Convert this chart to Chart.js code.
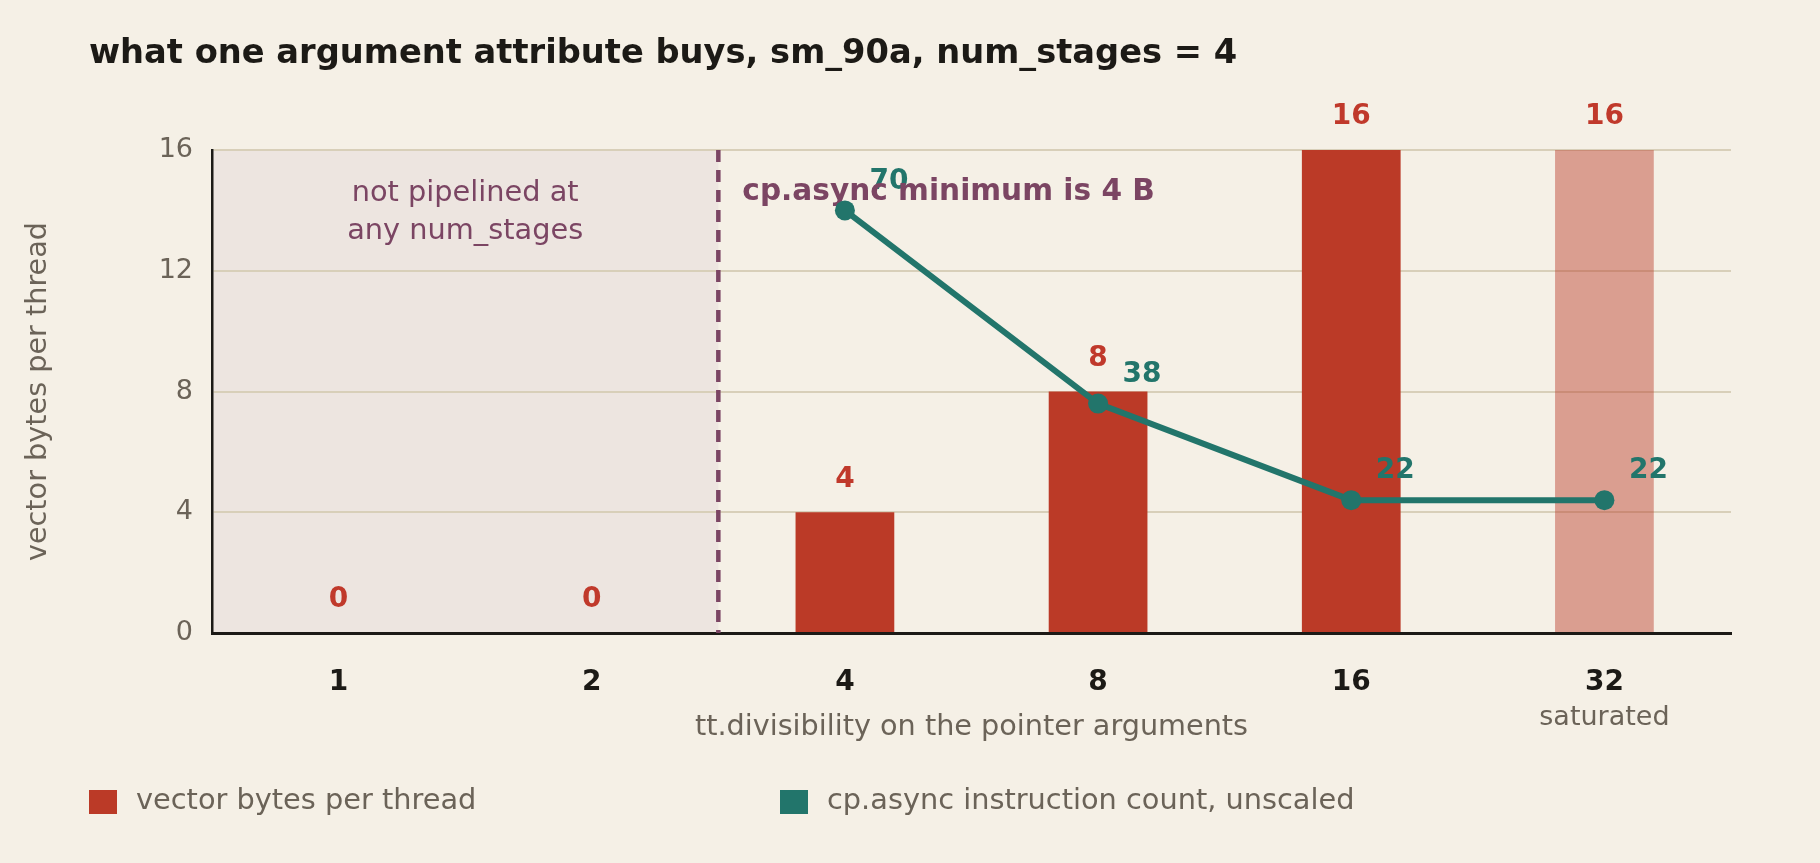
<!DOCTYPE html>
<html>
<head>
<meta charset="utf-8">
<script src="https://cdn.jsdelivr.net/npm/chart.js@4"></script>
<style>
  html, body { margin: 0; padding: 0; background: #f5f0e6; }
  canvas { display: block; }
</style>
</head>
<body>
<canvas id="chart" width="1820" height="863"></canvas>
<script>
// tt.divisibility values along the x axis
const divisibility = ['1', '2', '4', '8', '16', '32']
// vector bytes per thread (bars)
const vectorBytes = [0, 0, 4, 8, 16, 16]
// cp.async instruction count (line), not emitted below 4 B
const cpAsyncCount = [null, null, 70, 38, 22, 22]
const yTicks = [0, 4, 8, 12, 16]

const BG = '#f5f0e6'
const RED = '#bb3a27'
const RED_LIGHT = 'rgba(187, 58, 39, 0.45)'
const TEAL = '#22756b'
const PURPLE = '#7b4563'
const GRAY = '#6b6358'
const INK = '#1c1a16'
const FONT = 'DejaVu Sans'

Chart.defaults.font.family = FONT
Chart.defaults.font.size = 28

const extras = {
    id: 'extras',
    beforeDraw(chart) {
        const { ctx, chartArea: a, scales: { x } } = chart
        ctx.save()
        ctx.fillStyle = BG
        ctx.fillRect(0, 0, chart.width, chart.height)
        // not-pipelined band behind categories 1 and 2
        const edge = (x.getPixelForValue(1) + x.getPixelForValue(2)) / 2
        ctx.fillStyle = '#ede5e0'
        ctx.fillRect(a.left, a.top, edge - a.left, a.bottom - a.top)

        // title
        ctx.fillStyle = INK
        ctx.font = `bold 33.7px ${FONT}`
        ctx.textAlign = 'left'
        ctx.textBaseline = 'alphabetic'
        ctx.fillText('what one argument attribute buys, sm_90a, num_stages = 4', 89, 63)

        // legend
        ctx.font = `28.8px ${FONT}`
        ctx.textBaseline = 'middle'
        const items = [
            { color: RED, text: 'vector bytes per thread', x: 89 },
            { color: TEAL, text: 'cp.async instruction count, unscaled', x: 780 },
        ]
        items.forEach(it => {
            ctx.fillStyle = it.color
            ctx.fillRect(it.x, 790, 28, 24)
            ctx.fillStyle = GRAY
            ctx.fillText(it.text, it.x + 47, 802)
        })
        ctx.restore()
    },
    beforeDatasetsDraw(chart) {
        const { ctx, chartArea: a, scales: { x } } = chart
        const edge = (x.getPixelForValue(1) + x.getPixelForValue(2)) / 2
        ctx.save()
        ctx.strokeStyle = PURPLE
        ctx.lineWidth = 4.5
        ctx.setLineDash([12, 8])
        ctx.beginPath()
        ctx.moveTo(edge, a.top)
        ctx.lineTo(edge, a.bottom)
        ctx.stroke()
        ctx.restore()
    },
    afterDatasetDraw(chart, args) {
        if (args.index !== 0) return
        const { ctx, chartArea: a, scales: { x } } = chart
        const edge = (x.getPixelForValue(1) + x.getPixelForValue(2)) / 2
        ctx.save()
        ctx.textAlign = 'center'
        ctx.textBaseline = 'middle'
        ctx.font = `bold 28px ${FONT}`

        ctx.fillStyle = '#c0392b'
        chart.getDatasetMeta(0).data.forEach(bar => {
            ctx.fillText(String(vectorBytes[bar.$context.dataIndex]), bar.x, bar.y - 33)
        })
        ctx.fillStyle = TEAL
        chart.getDatasetMeta(1).data.forEach((pt, i) => {
            if (cpAsyncCount[i] == null) return
            ctx.fillText(String(cpAsyncCount[i]), pt.x + 44, pt.y - 29)
        })

        // annotations
        ctx.fillStyle = PURPLE
        ctx.font = `28.8px ${FONT}`
        const mid = (a.left + edge) / 2
        ctx.fillText('not pipelined at', mid, 194)
        ctx.fillText('any num_stages', mid, 232)
        ctx.font = `bold 29.6px ${FONT}`
        ctx.textAlign = 'left'
        ctx.fillText('cp.async minimum is 4 B', edge + 24, 192)

        ctx.fillStyle = GRAY
        ctx.textAlign = 'center'
        ctx.font = `27px ${FONT}`
        ctx.fillText('saturated', x.getPixelForValue(5), 718)
        ctx.restore()
    }
}

new Chart(document.getElementById('chart'), {
    data: {
        labels: divisibility,
        datasets: [
            {
                type: 'bar',
                label: 'vector bytes per thread',
                data: vectorBytes,
                backgroundColor: vectorBytes.map((v, i) => i === vectorBytes.length - 1 ? RED_LIGHT : RED),
                borderWidth: 0,
                categoryPercentage: 1,
                barPercentage: 0.39,
                order: 1
            },
            {
                type: 'line',
                label: 'cp.async instruction count, unscaled',
                data: cpAsyncCount,
                yAxisID: 'y2',
                borderColor: TEAL,
                backgroundColor: TEAL,
                borderWidth: 6,
                pointRadius: 10,
                pointBackgroundColor: TEAL,
                pointBorderWidth: 0,
                spanGaps: false,
                order: 0
            }
        ]
    },
    options: {
        responsive: false,
        animation: false,
        devicePixelRatio: 1,
        layout: { padding: { left: 0, top: 150, right: 89, bottom: 110 } },
        plugins: {
            legend: { display: false },
            title: { display: false },
            tooltip: { enabled: false }
        },
        scales: {
            x: {
                offset: true,
                grid: { display: false },
                border: { display: true, color: INK, width: 3 },
                ticks: { color: INK, font: { weight: 'bold', size: 28 }, padding: 25 },
                title: {
                    display: true,
                    text: 'tt.divisibility on the pointer arguments',
                    color: GRAY,
                    font: { size: 28.7 },
                    padding: { top: 0, bottom: 8 }
                },
                afterFit(scale) { scale.height = 120 }
            },
            y: {
                min: 0,
                max: 16,
                afterBuildTicks(scale) { scale.ticks = yTicks.map(v => ({ value: v })) },
                grid: { color: '#d8cfb9', lineWidth: 2, drawTicks: false },
                border: { display: true, color: INK, width: 2.5 },
                ticks: { color: GRAY, font: { size: 27 }, padding: 19 },
                title: {
                    display: true,
                    text: 'vector bytes per thread',
                    color: GRAY,
                    font: { size: 28.7 },
                    padding: { top: 21, bottom: 0 }
                },
                afterFit(scale) { scale.width = 212 }
            },
            y2: {
                display: false,
                min: 0,
                max: 80
            }
        }
    },
    plugins: [extras]
})
</script>
</body>
</html>
